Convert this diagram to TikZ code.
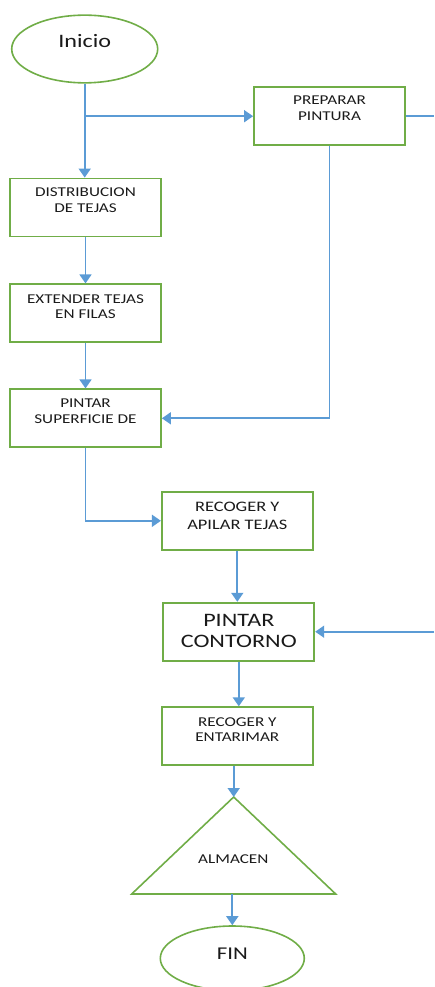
\documentclass[tikz,border=0pt]{standalone}
\usepackage{fontspec}
\setmainfont{Carlito}[FakeStretch=1.27]
\usetikzlibrary{arrows.meta,shapes.geometric}
\definecolor{boxgreen}{HTML}{70AD47}
\definecolor{arrowblue}{HTML}{5B9BD5}
\definecolor{txt}{HTML}{1A1A1A}
\tikzset{
  procbox/.style={draw=boxgreen, line width=1.8pt, minimum width=151pt, minimum height=58pt, align=center, inner sep=0pt, text=txt},
  termin/.style={draw=boxgreen, ellipse, line width=1.6pt, inner sep=0pt, text=txt},
  flow/.style={draw=arrowblue, line width=1.7pt, -{Triangle[width=12pt,length=9pt]}},
  plainline/.style={draw=arrowblue, line width=1.7pt},
}
\begin{document}
\begin{tikzpicture}[x=1pt,y=-1pt]
\useasboundingbox (0,0) rectangle (434,987);
\coordinate (edgeR) at (434,0);

\node[termin, minimum width=146pt, minimum height=67.7pt, font=\fontsize{19}{22}\selectfont, text depth=15.4pt] (ini) at (84.7,49) {Inicio};

\node[procbox, font=\fontsize{13.5}{16}\selectfont, text depth=16.4pt] (prep) at (329.5,116.2) {PREPARAR\\PINTURA};
\node[procbox, font=\fontsize{13.5}{16}\selectfont, text depth=15pt] (dist) at (85.5,207.5) {DISTRIBUCION\\DE TEJAS};
\node[procbox, font=\fontsize{13.5}{15}\selectfont, text depth=13.6pt] (ext) at (85.5,313.3) {EXTENDER TEJAS\\EN FILAS};
\node[procbox, font=\fontsize{13.5}{16}\selectfont, text depth=15.2pt] (sup) at (85.5,418.3) {PINTAR\\SUPERFICIE DE};
\node[procbox, font=\fontsize{14.5}{17.6}\selectfont, text depth=10.6pt] (apilar) at (237.3,520.8) {RECOGER Y\\APILAR TEJAS};
\node[procbox, font=\fontsize{19}{20.6}\selectfont, text depth=1.4pt] (cont) at (238.8,631.7) {PINTAR\\CONTORNO};
\node[procbox, font=\fontsize{13.5}{15}\selectfont, text depth=14pt] (ent) at (237.3,736.2) {RECOGER Y\\ENTARIMAR};

\coordinate (apex) at (233.7,797);
\coordinate (bl) at (131.7,894);
\coordinate (brt) at (335.7,894);
\draw[boxgreen, line width=1.6pt] (apex) -- (brt) -- (bl) -- cycle;
\node[font=\fontsize{13.5}{16}\selectfont, text depth=0pt, inner sep=0pt, text=txt] (alm) at (233.3,859.3) {ALMACEN};

\node[termin, minimum width=144pt, minimum height=64.6pt, font=\fontsize{18}{21}\selectfont, text depth=10pt] (fin) at (232.3,958.3) {FIN};

\coordinate (br) at (ini.south |- prep.west);
\draw[flow] (ini.south) -- (ini.south |- dist.north);
\draw[flow] (br) -- (prep.west);
\draw[plainline] (prep.east) -- (prep.east -| edgeR);
\draw[flow] (prep.south) |- (sup.east);
\draw[flow] (dist.south) -- (ext.north);
\draw[flow] (ext.south) -- (sup.north);
\draw[flow] (sup.south) |- (apilar.west);
\draw[flow] (apilar.south) -- (apilar.south |- cont.north);
\draw[flow] (cont.east -| edgeR) -- (cont.east);
\draw[flow] (cont.south) -- (cont.south |- ent.north);
\draw[flow] (apex |- ent.south) -- (apex);
\draw[flow] (fin.north |- bl) -- (fin.north);
\end{tikzpicture}
\end{document}
